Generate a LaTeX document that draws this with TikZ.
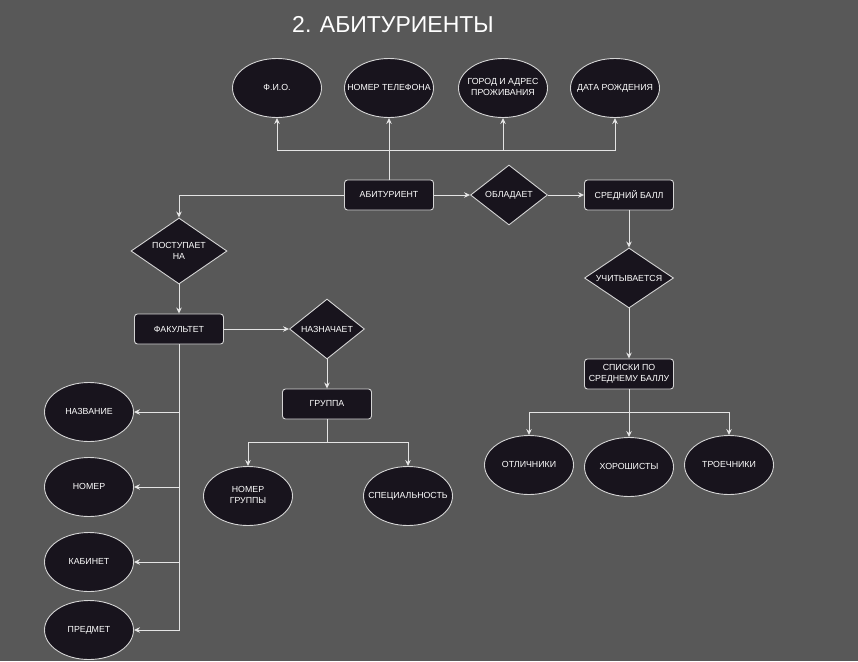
\documentclass[tikz,border=0pt]{standalone}
\usepackage{fontspec}
\setmainfont{Liberation Sans}
\usetikzlibrary{shapes.geometric,arrows.meta}
\definecolor{bg}{HTML}{585858}
\definecolor{nodefill}{HTML}{18141D}
\definecolor{edge}{HTML}{D4D4D4}
\definecolor{wire}{HTML}{E4E4E4}
\newcommand{\zw}[1]{\makebox[0pt][c]{\begin{tabular}{@{}c@{}}#1\end{tabular}}}
\tikzset{
  base/.style={draw=edge, line width=0.9pt, fill=nodefill, text=white, font=\fontsize{8.8}{10.8}\selectfont, align=center, inner sep=0pt},
  attr/.style={base, ellipse, minimum width=89pt, minimum height=59pt},
  ent/.style={base, rectangle, rounded corners=3pt, minimum width=89pt, minimum height=30pt},
  rel/.style={base, diamond, aspect=1.3},
  arr/.style={draw=wire, line width=0.9pt, -{Stealth[length=6pt,width=5.5pt]}},
  ln/.style={draw=wire, line width=0.9pt}
}
\begin{document}
\begin{tikzpicture}[x=1pt,y=-1pt]
\fill[bg] (0,0) rectangle (858,661);
\useasboundingbox (0,0) rectangle (858,661);
\node[text=white, font=\fontsize{23}{26}\selectfont] (title) at (393,25) {2. АБИТУРИЕНТЫ};
% top attributes
\node[attr] (fio) at (277,88) {\zw{Ф.И.О.}};
\node[attr] (tel) at (389,88) {\zw{НОМЕР ТЕЛЕФОНА}};
\node[attr] (gorod) at (503,88) {\zw{ГОРОД И АДРЕС\\ПРОЖИВАНИЯ}};
\node[attr] (data) at (615,88) {\zw{ДАТА РОЖДЕНИЯ}};
% main row
\node[ent] (abit) at (389,195) {АБИТУРИЕНТ};
\node[rel, minimum width=77pt, minimum height=60pt] (obl) at (509,195) {ОБЛАДАЕТ};
\node[ent] (sred) at (629,195) {СРЕДНИЙ БАЛЛ};
% left branch
\node[rel, minimum width=96pt, minimum height=66pt] (post) at (179,251) {ПОСТУПАЕТ\\НА};
\node[ent] (fak) at (179,329) {ФАКУЛЬТЕТ};
\node[rel, minimum width=75pt, minimum height=60pt] (nazn) at (327,329) {НАЗНАЧАЕТ};
\node[ent] (gr) at (327,404) {ГРУППА};
\node[attr] (nomgr) at (248,496) {\zw{НОМЕР\\ГРУППЫ}};
\node[attr] (spec) at (408,496) {\zw{СПЕЦИАЛЬНОСТЬ}};
\node[attr] (nazv) at (89,412) {\zw{НАЗВАНИЕ}};
\node[attr] (nom) at (89,487) {\zw{НОМЕР}};
\node[attr] (kab) at (89,562) {\zw{КАБИНЕТ}};
\node[attr] (pred) at (89,630) {\zw{ПРЕДМЕТ}};
% right branch
\node[rel, minimum width=89pt, minimum height=60pt] (uch) at (629,278) {УЧИТЫВАЕТСЯ};
\node[ent] (spis) at (629,374) {СПИСКИ ПО\\СРЕДНЕМУ БАЛЛУ};
\node[attr] (otl) at (529,465) {\zw{ОТЛИЧНИКИ}};
\node[attr] (hor) at (629,467) {\zw{ХОРОШИСТЫ}};
\node[attr] (tro) at (729,465) {\zw{ТРОЕЧНИКИ}};
% bus coordinates
\coordinate (topbus) at (389,150);
\coordinate (grbus) at (327,442);
\coordinate (spbus) at (629,412);
% connectors
\draw[arr] (abit.north) -- (tel.south);
\draw[arr] (topbus) -| (fio.south);
\draw[arr] (topbus) -| (gorod.south);
\draw[arr] (topbus) -| (data.south);
\draw[arr] (abit.east) -- (obl.west);
\draw[arr] (obl.east) -- (sred.west);
\draw[arr] (abit.west) -| (post.north);
\draw[arr] (post.south) -- (fak.north);
\draw[arr] (fak.east) -- (nazn.west);
\draw[arr] (nazn.south) -- (gr.north);
\draw[ln] (gr.south) -- (grbus);
\draw[arr] (grbus) -| (nomgr.north);
\draw[arr] (grbus) -| (spec.north);
\draw[arr] (fak.south) |- (nazv.east);
\draw[arr] (fak.south) |- (nom.east);
\draw[arr] (fak.south) |- (kab.east);
\draw[arr] (fak.south) |- (pred.east);
\draw[arr] (sred.south) -- (uch.north);
\draw[arr] (uch.south) -- (spis.north);
\draw[arr] (spis.south) -- (hor.north);
\draw[arr] (spbus) -| (otl.north);
\draw[arr] (spbus) -| (tro.north);
\end{tikzpicture}
\end{document}
